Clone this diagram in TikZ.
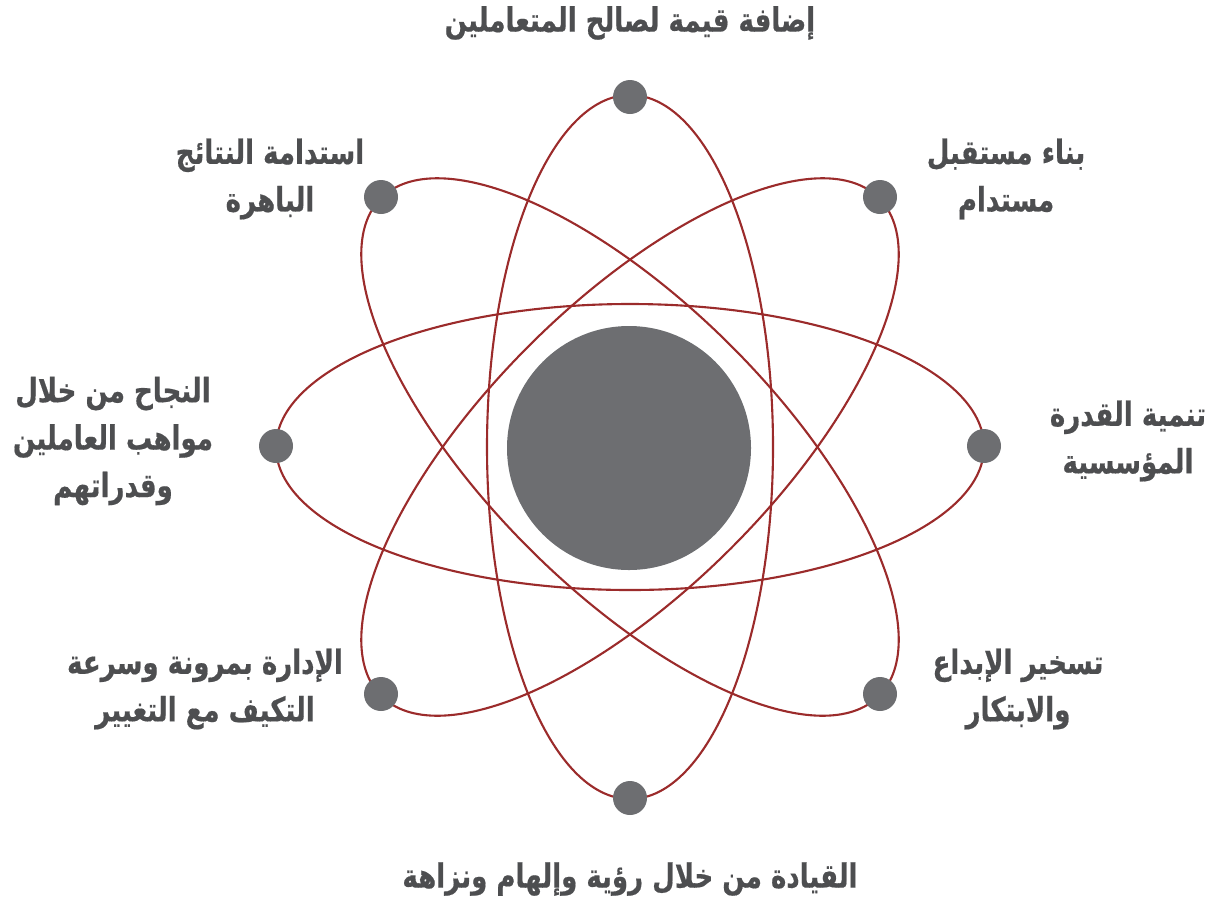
\documentclass[tikz,border=0pt]{standalone}
\usepackage{fontspec}
\newfontfamily\arabicfont[Script=Arabic,FakeStretch=0.78,FakeBold=0.5]{DejaVu Sans Bold}
\TeXXeTstate=1
\definecolor{orbit}{HTML}{9B2B2B}
\definecolor{dotgray}{HTML}{6D6E71}
\definecolor{txtgray}{HTML}{4D4E50}
\begin{document}
\begin{tikzpicture}[x=0.02cm,y=-0.02cm,
  orbitline/.style={draw=orbit,line width=1.2pt},
  dotnode/.style={circle,fill=dotgray,minimum size=34*0.02cm,inner sep=0pt},
  label/.style={text=txtgray,font=\arabicfont\fontsize{19}{27}\selectfont,align=center,inner sep=0pt}]
\useasboundingbox (0,0) rectangle (1212,900);
\coordinate (c) at (630,447);
\fill[dotgray] (629,448) circle [radius=122];
\draw[orbitline] (c) ellipse [x radius=354, y radius=143];
\draw[orbitline] (c) ellipse [x radius=143, y radius=352];
\draw[orbitline, rotate around={45:(c)}] (c) ellipse [x radius=352, y radius=143];
\draw[orbitline, rotate around={-45:(c)}] (c) ellipse [x radius=352, y radius=143];
\node[dotnode] (dT) at (630,97) {};
\node[dotnode] (dB) at (630,798) {};
\node[dotnode] (dL) at (276,446) {};
\node[dotnode] (dR) at (984,446) {};
\node[dotnode] (dTL) at (381,197) {};
\node[dotnode] (dTR) at (880,197) {};
\node[dotnode] (dBL) at (381,694) {};
\node[dotnode] (dBR) at (880,694) {};
\node[label] (tT) at (630,23) {\beginR إضافة قيمة لصالح المتعاملين\endR};
\node[label] (tTL) at (270,179) {\beginR استدامة النتائج\endR\\\beginR الباهرة\endR};
\node[label] (tTR) at (1006,179) {\beginR بناء مستقبل\endR\\\beginR مستدام\endR};
\node[label] (tL) at (113,441) {\beginR النجاح من خلال\endR\\\beginR مواهب العاملين\endR\\\beginR وقدراتهم\endR};
\node[label] (tR) at (1128,441) {\beginR تنمية القدرة\endR\\\beginR المؤسسية\endR};
\node[label] (tBL) at (205,689) {\beginR الإدارة بمرونة وسرعة\endR\\\beginR التكيف مع التغيير\endR};
\node[label] (tBR) at (1018,689) {\beginR تسخير الإبداع\endR\\\beginR والابتكار\endR};
\node[label] (tB) at (630,879) {\beginR القيادة من خلال رؤية وإلهام ونزاهة\endR};
\end{tikzpicture}
\end{document}
